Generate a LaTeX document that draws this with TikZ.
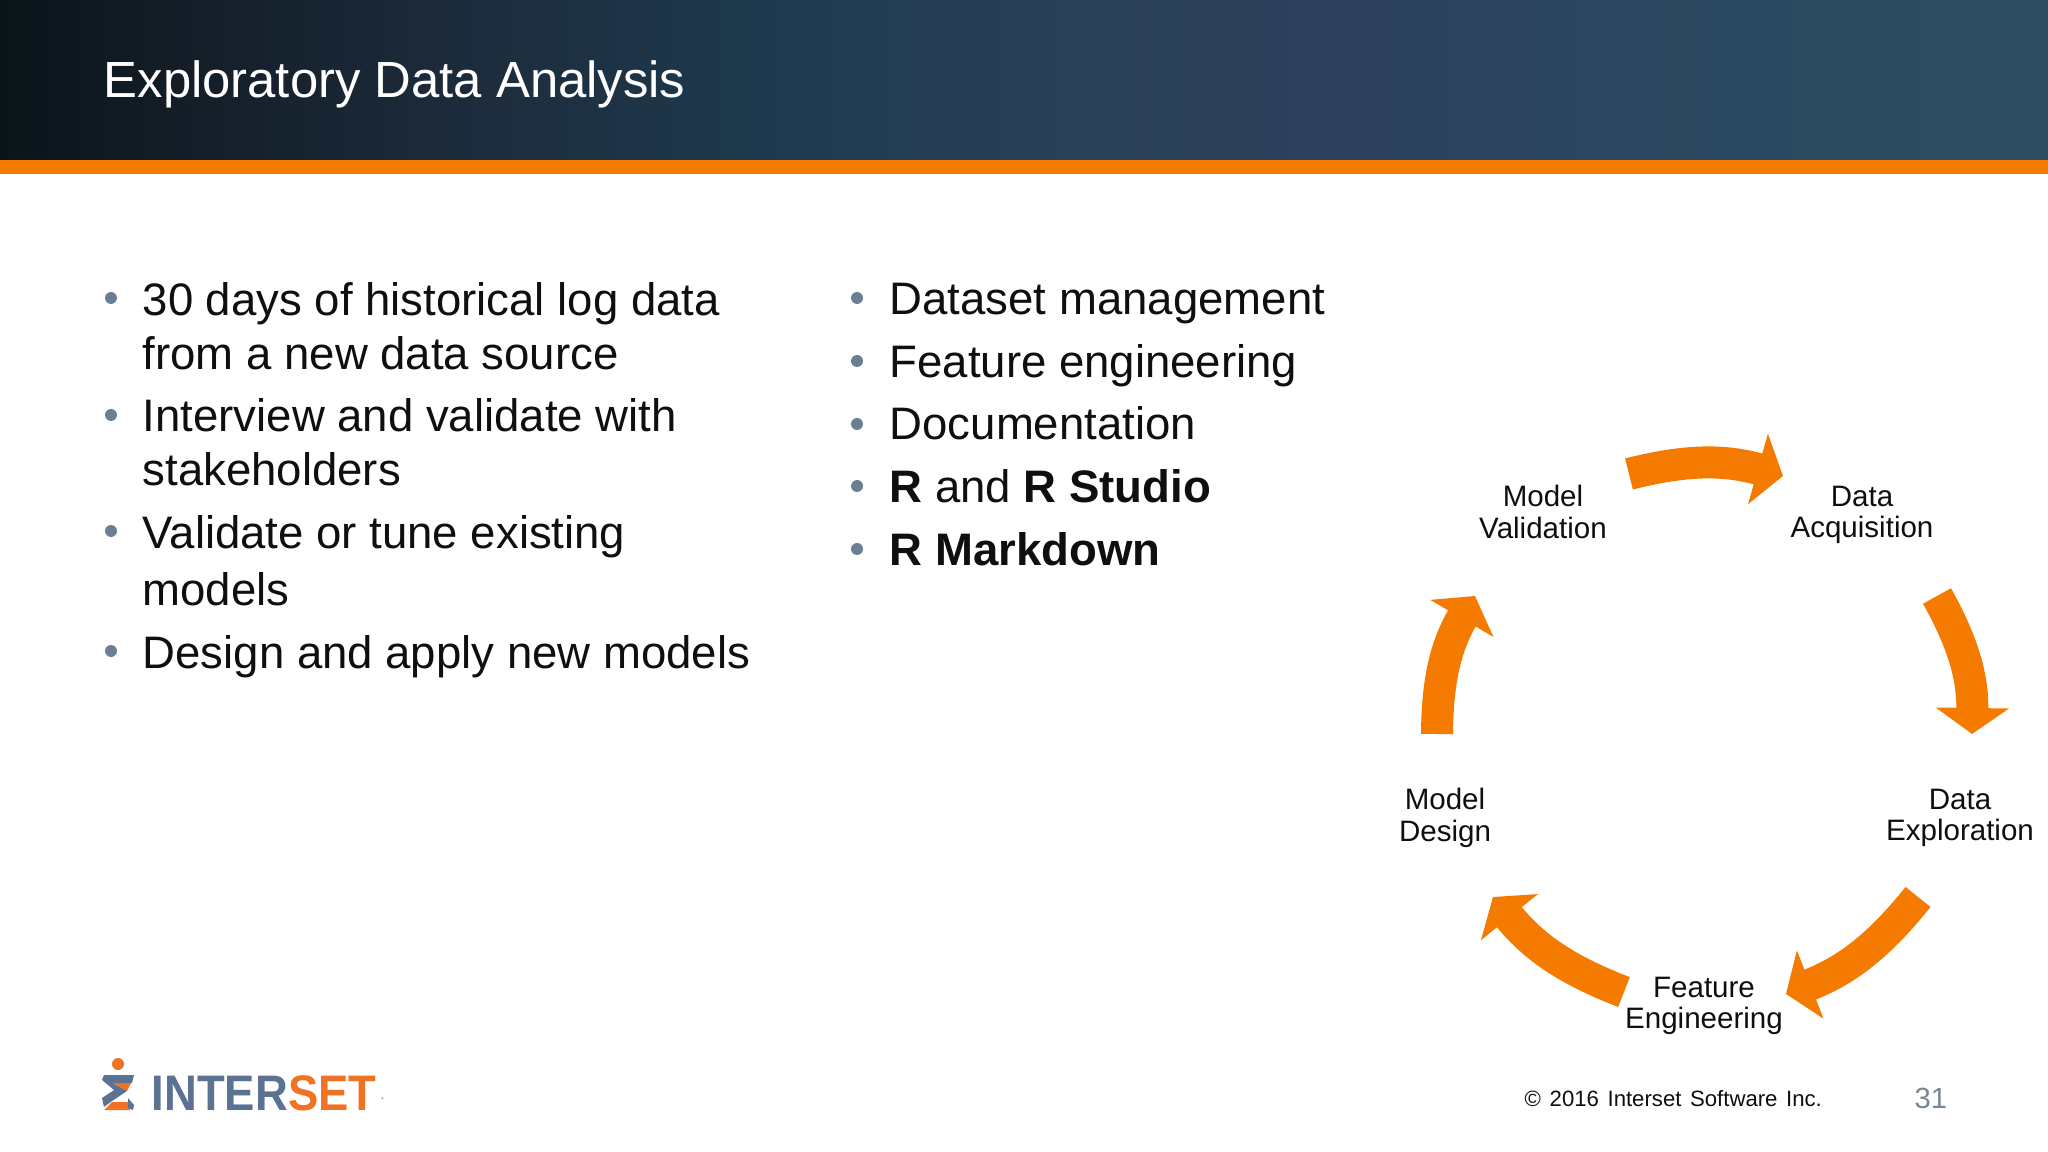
\documentclass[tikz,border=0pt]{standalone}
\usepackage{fontspec}
\setmainfont{Liberation Sans}
\usepackage{xcolor}
\usepackage{graphicx}
\definecolor{bandorange}{RGB}{245,122,0}
\definecolor{bodyink}{RGB}{15,15,15}
\definecolor{dotgrey}{RGB}{107,127,148}
\definecolor{logoblue}{RGB}{92,114,146}
\definecolor{logoorange}{RGB}{240,114,36}
\definecolor{pagenum}{RGB}{120,135,150}
\pgfdeclarehorizontalshading{headerfade}{100bp}{
  rgb(0bp)=(0.04,0.08,0.10);
  rgb(25bp)=(0.04,0.08,0.10);
  rgb(35bp)=(0.11,0.16,0.22);
  rgb(44bp)=(0.12,0.23,0.31);
  rgb(51bp)=(0.16,0.25,0.34);
  rgb(57bp)=(0.18,0.25,0.36);
  rgb(67bp)=(0.17,0.29,0.38);
  rgb(75bp)=(0.17,0.30,0.38);
  rgb(100bp)=(0.17,0.30,0.38)}
\usetikzlibrary{calc,positioning,arrows.meta}
\tikzset{
  title/.style={anchor=base west,text=white,inner sep=0pt,font=\fontsize{14.45}{17}\selectfont},
  point/.style={anchor=base west,text=bodyink,inner sep=0pt,font=\fontsize{12.95}{15}\selectfont},
  dot/.style={circle,fill=dotgrey,inner sep=0pt,minimum size=12*0.01cm},
  stage/.style={align=center,text=bodyink,inner sep=0pt,font=\fontsize{8.4}{9}\selectfont},
  flow/.style={bandorange,line width=32*0.01cm,
    -{Triangle[width=72*0.01cm,length=26*0.01cm]}},
  small/.style={anchor=base west,inner sep=0pt}
}
\begin{document}
\begin{tikzpicture}[x=0.01cm,y=-0.01cm]
\useasboundingbox (0,0) rectangle (2048,1152);
\fill[white] (0,0) rectangle (2048,1152);
% header
\shade[shading=headerfade] (0,0) rectangle (2048,160);
\fill[bandorange] (0,160) rectangle (2048,174);
\node[title] (heading) at (103,98) {Exploratory Data Analysis};

% left column
\node[dot] (d1) at (111,298) {};
\node[point] (l1) at (142,316) {30 days of historical log data};
\node[point] (l1b) at (142,370) {from a new data source};
\node[dot] (d2) at (111,415) {};
\node[point] (l2) at (142,432) {Interview and validate with};
\node[point] (l2b) at (142,486) {stakeholders};
\node[dot] (d3) at (111,531) {};
\node[point] (l3) at (142,549) {Validate or tune existing};
\node[point] (l3b) at (142,606) {models};
\node[dot] (d4) at (111,651) {};
\node[point] (l4) at (142,668) {Design and apply new models};

% right column
\node[dot] (r1d) at (857,298) {};
\node[point] (r1) at (889,315) {Dataset management};
\node[dot] (r2d) at (857,361) {};
\node[point] (r2) at (889,378) {Feature engineering};
\node[dot] (r3d) at (857,424) {};
\node[point] (r3) at (889,440) {Documentation};
\node[dot] (r4d) at (857,486) {};
\node[point] (r4) at (889,503) {\textbf{R} and \textbf{R Studio}};
\node[dot] (r5d) at (857,549) {};
\node[point] (r5) at (889,566) {\textbf{R Markdown}};

% cycle
\coordinate (hub) at (1705,735);
\node[stage] (valid) at (1543,512) {Model\\Validation};
\node[stage] (acq) at (1862,515) {Data\\Acquisition};
\node[stage] (explore) at (1960,818) {Data\\Exploration};
\node[stage] (feature) at (1704,1006) {Feature\\Engineering};
\node[stage] (design) at (1445,818) {Model\\Design};
\coordinate (validout) at ($(hub)+(-76,-261)$);
\coordinate (acqin) at ($(hub)+(78,-259)$);
\coordinate (acqout) at ($(hub)+(232,-139)$);
\coordinate (explorein) at ($(hub)+(267,-1)$);
\coordinate (exploreout) at ($(hub)+(213,162)$);
\coordinate (featurein) at ($(hub)+(81,259)$);
\coordinate (featureout) at ($(hub)+(-81,257)$);
\coordinate (designin) at ($(hub)+(-212,162)$);
\coordinate (designout) at ($(hub)+(-268,-1)$);
\coordinate (validin) at ($(hub)+(-230,-139)$);
\draw[flow] (validout) to[bend left=15] (acqin);
\draw[flow] (acqout) to[bend left=15] (explorein);
\draw[flow] (exploreout) to[bend left=15] (featurein);
\draw[flow] (featureout) to[bend left=15] (designin);
\draw[flow] (designout) to[bend left=15] (validin);

% logo
\fill[logoorange] (118,1064) circle (6);
\fill[logoorange] (112,1083) -- (131,1083) -- (127,1091) -- cycle;
\fill[logoorange] (104,1110) -- (130,1110) -- (128,1102) -- (112,1102) -- cycle;
\fill[logoblue] (104,1075) -- (134,1075) -- (132,1083) -- (112,1083) -- (127,1091) -- (112,1101) -- (104,1107) -- (102,1098) -- (114,1090) -- (102,1080) -- cycle;
\fill[logoblue] (128,1098) -- (134,1105) -- (133,1110) -- (128,1108) -- cycle;
\node[small,font=\bfseries\fontsize{14.2}{16}\selectfont] (logotext) at (151,1110) {\scalebox{0.91}[1]{\textcolor{logoblue}{INTER}\textcolor{logoorange}{SET}}};
\node[small,text=gray,font=\fontsize{4}{4}\selectfont] (logodot) at (380,1099) {.};

% footer
\node[small,text=bodyink,font=\fontsize{6.3}{8}\selectfont] (copy) at (1524,1106) {\spaceskip=0.39em © 2016 Interset Software Inc.};
\node[small,text=pagenum,font=\fontsize{8.3}{9}\selectfont] (pageno) at (1914,1108) {31};
\end{tikzpicture}
\end{document}
